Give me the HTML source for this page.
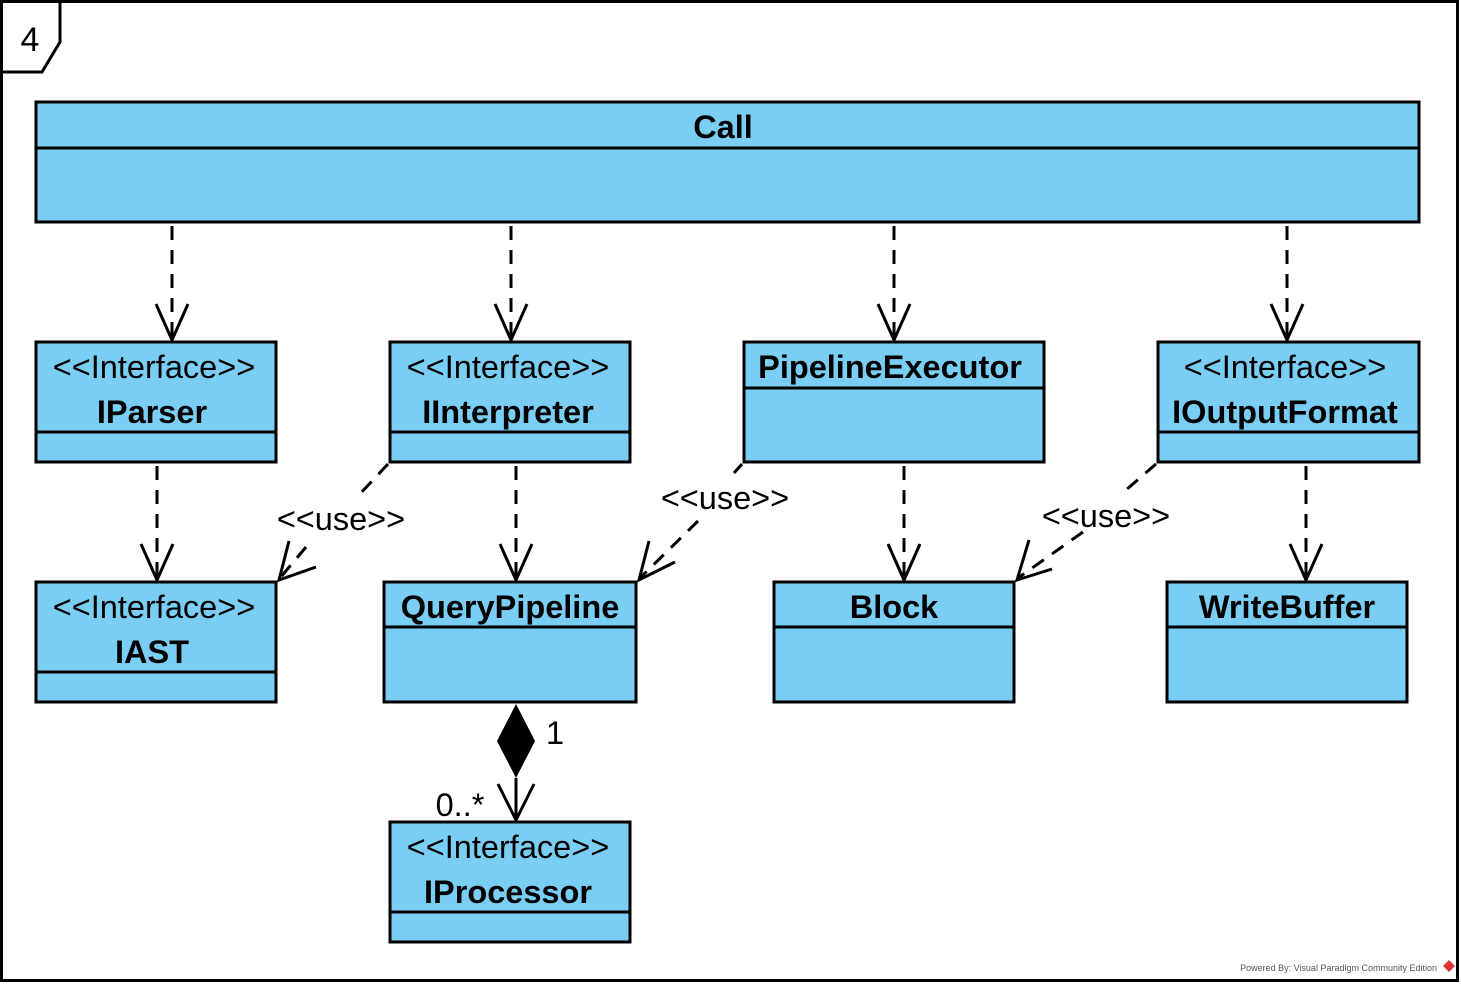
<!DOCTYPE html>
<html><head><meta charset="utf-8"><style>html,body{margin:0;padding:0;background:#fff}svg{display:block}</style></head><body>
<svg width="1461" height="984" viewBox="0 0 1461 984" xmlns="http://www.w3.org/2000/svg" font-family="Liberation Sans, Arial, sans-serif">
<rect x="1.5" y="1.5" width="1456" height="979" fill="#fff" stroke="#000" stroke-width="3"/>
<path d="M1.5 72 H42 L60 42 V1.5" fill="none" stroke="#000" stroke-width="3"/>
<text x="30" y="51" font-size="34" text-anchor="middle">4</text>
<g fill="#7ACEF3" stroke="#000" stroke-width="3">
<rect x="36" y="102" width="1383" height="120"/>
<rect x="36" y="342" width="240" height="120"/>
<rect x="390" y="342" width="240" height="120"/>
<rect x="744" y="342" width="300" height="120"/>
<rect x="1158" y="342" width="261" height="120"/>
<rect x="36" y="582" width="240" height="120"/>
<rect x="384" y="582" width="252" height="120"/>
<rect x="774" y="582" width="240" height="120"/>
<rect x="1167" y="582" width="240" height="120"/>
<rect x="390" y="822" width="240" height="120"/>
</g>
<g stroke="#000" stroke-width="3">
<line x1="36" y1="148" x2="1419" y2="148"/>
<line x1="36" y1="432" x2="276" y2="432"/>
<line x1="390" y1="432" x2="630" y2="432"/>
<line x1="744" y1="388" x2="1044" y2="388"/>
<line x1="1158" y1="432" x2="1419" y2="432"/>
<line x1="36" y1="672" x2="276" y2="672"/>
<line x1="384" y1="627" x2="636" y2="627"/>
<line x1="774" y1="627" x2="1014" y2="627"/>
<line x1="1167" y1="627" x2="1407" y2="627"/>
<line x1="390" y1="912" x2="630" y2="912"/>
</g>
<g font-size="32.5" text-anchor="middle">
<text x="723" y="138" font-weight="bold">Call</text>
<text x="154" y="378">&lt;&lt;Interface&gt;&gt;</text>
<text x="152" y="423" font-weight="bold">IParser</text>
<text x="508" y="378">&lt;&lt;Interface&gt;&gt;</text>
<text x="508" y="423" font-weight="bold">IInterpreter</text>
<text x="890" y="378" font-weight="bold">PipelineExecutor</text>
<text x="1285" y="378">&lt;&lt;Interface&gt;&gt;</text>
<text x="1285" y="423" font-weight="bold">IOutputFormat</text>
<text x="154" y="618">&lt;&lt;Interface&gt;&gt;</text>
<text x="152" y="663" font-weight="bold">IAST</text>
<text x="510" y="618" font-weight="bold">QueryPipeline</text>
<text x="894" y="618" font-weight="bold">Block</text>
<text x="1287" y="618" font-weight="bold">WriteBuffer</text>
<text x="508" y="858">&lt;&lt;Interface&gt;&gt;</text>
<text x="508" y="903" font-weight="bold">IProcessor</text>
<text x="341" y="530">&lt;&lt;use&gt;&gt;</text>
<text x="725" y="509">&lt;&lt;use&gt;&gt;</text>
<text x="1106" y="527">&lt;&lt;use&gt;&gt;</text>
<text x="555" y="744">1</text>
<text x="460" y="816">0..*</text>
</g>
<g stroke="#000" stroke-width="3" fill="none">
<g stroke-dasharray="14,10">
<line x1="172" y1="226" x2="172" y2="338"/>
<line x1="511" y1="226" x2="511" y2="338"/>
<line x1="894" y1="226" x2="894" y2="338"/>
<line x1="1287" y1="226" x2="1287" y2="338"/>
<line x1="157" y1="466" x2="157" y2="578"/>
<line x1="516" y1="466" x2="516" y2="578"/>
<line x1="904" y1="466" x2="904" y2="578"/>
<line x1="1306" y1="466" x2="1306" y2="578"/>
<line x1="388" y1="464" x2="358" y2="496"/>
<line x1="306" y1="547" x2="280" y2="578"/>
<line x1="742" y1="464" x2="734" y2="473"/>
<line x1="698" y1="521" x2="640" y2="578"/>
<line x1="1156" y1="464" x2="1126" y2="490"/>
<line x1="1083" y1="532" x2="1018" y2="578"/>
</g>
<path d="M156 304 L172 340 L188 304"/>
<path d="M495 304 L511 340 L527 304"/>
<path d="M878 304 L894 340 L910 304"/>
<path d="M1271 304 L1287 340 L1303 304"/>
<path d="M141 544 L157 580 L173 544"/>
<path d="M500 544 L516 580 L532 544"/>
<path d="M888 544 L904 580 L920 544"/>
<path d="M1290 544 L1306 580 L1322 544"/>
<path d="M289 541 L279 580 L316 567"/>
<path d="M649 541 L639 580 L675 562"/>
<path d="M1029 540 L1017 580 L1052 569"/>
<line x1="516" y1="778" x2="516" y2="818"/>
<path d="M498 784 L516 820 L534 784"/>
</g>
<path d="M516 704 L535 741 L516 778 L497 741 Z" fill="#000"/>
<text x="1437" y="971" font-size="9" fill="#555" text-anchor="end">Powered By: Visual Paradigm Community Edition</text>
<path d="M1449 960 L1455 966 L1449 972 L1443 966 Z" fill="#d33"/>
</svg>
</body></html>
